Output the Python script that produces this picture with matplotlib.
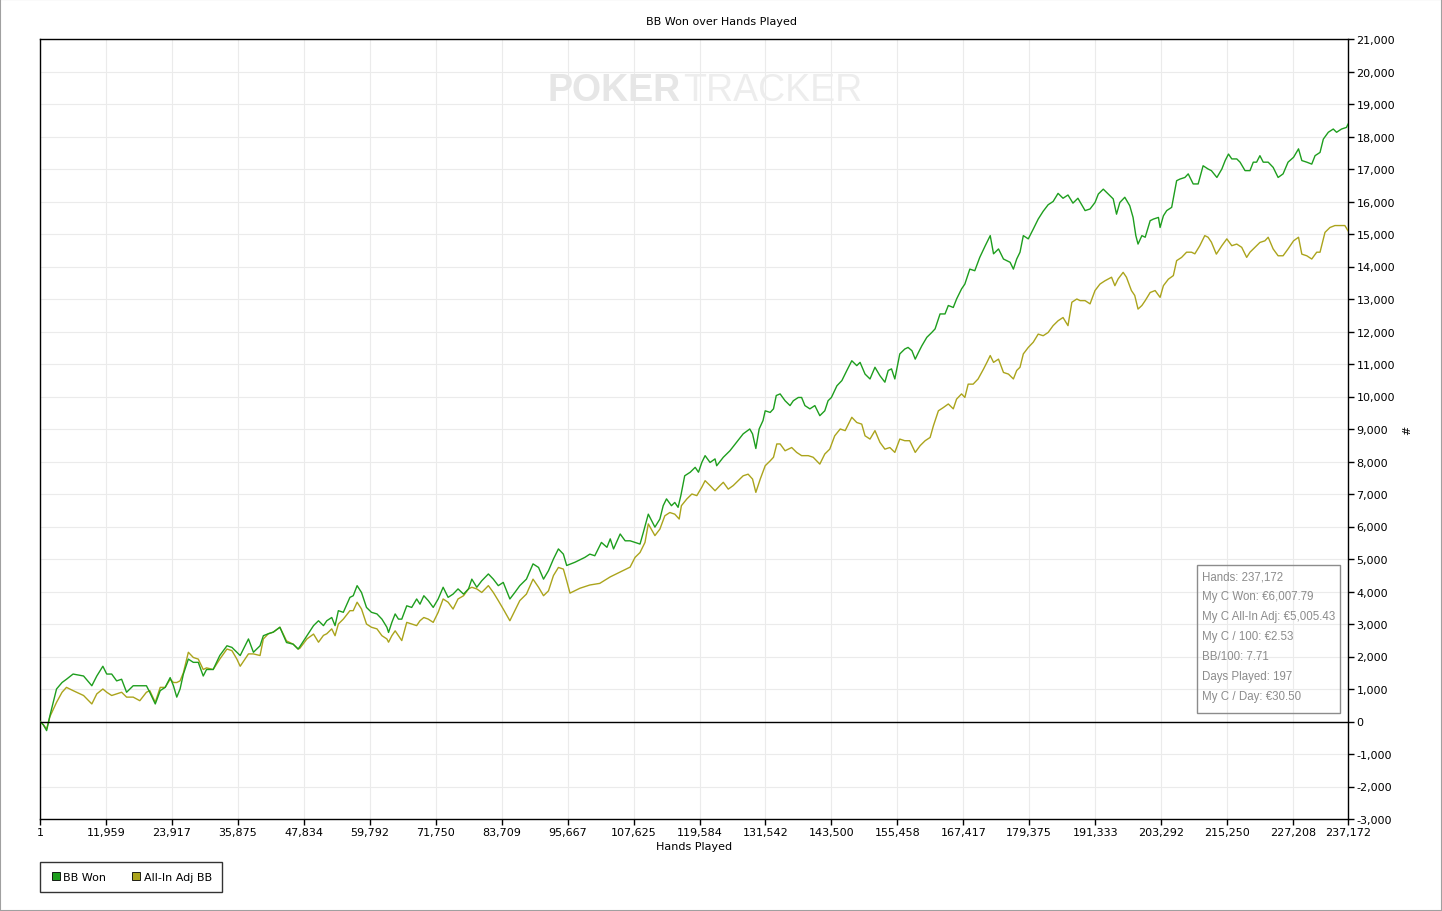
import numpy as np
import matplotlib
matplotlib.use("Agg")
import matplotlib.pyplot as plt
from matplotlib.lines import Line2D
from matplotlib.patches import Rectangle
from matplotlib.ticker import FuncFormatter

plt.rcParams["font.family"] = ["DejaVu Sans"]

# hands played (thousands) and cumulative BB won
bb_hands = [0.0, 0.6, 1.2, 1.8, 3.0, 4.0, 4.8, 6.0, 7.9, 9.4, 10.3, 11.4, 12.1, 13.0, 13.9, 14.8,
            15.7, 16.9, 18.1, 19.3, 19.9, 20.9, 21.8, 22.7, 23.6, 24.2, 24.8, 25.4, 26.0, 26.9,
            27.8, 28.7, 29.6, 30.2, 31.4, 32.6, 33.9, 34.8, 35.7, 36.3, 37.8, 38.7, 39.9, 40.5,
            41.4, 42.3, 43.5, 44.7, 45.9, 46.8, 47.1, 48.4, 49.6, 50.5, 51.4, 52.0, 52.9, 53.5,
            54.1, 55.0, 56.2, 56.8, 57.5, 58.3, 59.2, 60.1, 61.1, 62.0, 62.9, 63.2, 63.8, 64.4,
            65.0, 65.6, 66.5, 67.4, 68.3, 68.9, 69.6, 70.4, 71.3, 72.2, 73.1, 74.0, 74.9, 75.8,
            76.8, 77.7, 78.3, 79.2, 80.1, 81.3, 82.2, 83.1, 84.0, 85.2, 86.1, 87.0, 88.2, 89.4,
            90.4, 91.3, 92.2, 93.1, 94.0, 94.9, 95.5, 97.0, 98.8, 99.7, 100.6, 101.8, 102.8,
            103.4, 104.0, 105.2, 106.1, 107.0, 107.9, 108.8, 109.4, 110.3, 111.5, 112.4, 113.0,
            113.6, 114.5, 115.1, 115.7, 116.2, 116.9, 117.9, 118.8, 119.4, 120.0, 120.6, 121.5,
            122.4, 122.7, 123.9, 125.1, 126.3, 127.5, 128.7, 129.2, 129.8, 130.4, 131.1, 131.5,
            132.4, 133.0, 133.5, 134.2, 135.1, 136.0, 136.6, 137.5, 138.1, 138.7, 139.6, 140.5,
            141.4, 142.3, 142.9, 143.5, 144.5, 145.4, 146.3, 147.2, 148.1, 148.7, 149.6, 150.5,
            151.4, 152.3, 153.2, 153.8, 154.4, 155.0, 155.9, 156.8, 157.4, 158.1, 158.7, 159.3,
            159.9, 160.8, 161.7, 162.3, 163.2, 164.1, 164.7, 165.6, 166.2, 167.1, 167.7, 168.6,
            169.5, 170.4, 171.4, 172.3, 172.9, 173.8, 174.7, 175.3, 175.9, 176.5, 177.1, 177.7,
            178.3, 179.2, 180.1, 181.0, 181.9, 182.8, 183.7, 184.6, 185.5, 186.4, 187.3, 188.2,
            189.5, 190.4, 191.3, 191.9, 192.8, 193.7, 194.6, 195.2, 195.8, 196.7, 197.6, 198.2,
            198.7, 199.1, 199.8, 200.4, 201.3, 201.9, 202.8, 203.1, 203.7, 204.3, 205.2, 206.1,
            206.7, 207.6, 208.2, 209.1, 210.0, 210.9, 211.8, 212.4, 213.4, 214.3, 214.9, 215.5,
            216.1, 217.0, 217.6, 218.5, 219.4, 220.0, 220.6, 221.2, 221.8, 222.7, 223.6, 224.5,
            225.4, 226.3, 227.3, 228.2, 228.8, 229.7, 230.6, 231.2, 232.1, 232.7, 233.6, 234.5,
            235.1, 236.0, 236.9, 237.172]
bb_won = [0, -100, -280, 180, 1000, 1200, 1300, 1460, 1400, 1100, 1400, 1700, 1460, 1460, 1250, 1300,
          900, 1100, 1100, 1100, 900, 540, 950, 1050, 1350, 1100, 750, 1000, 1460, 1920,
          1820, 1820, 1400, 1600, 1600, 2030, 2330, 2280, 2130, 2030, 2540, 2130, 2330, 2640,
          2700, 2750, 2900, 2430, 2380, 2230, 2300, 2640, 2950, 3100, 2950, 3100, 3200, 2950,
          3410, 3360, 3820, 3870, 4180, 3970, 3510, 3360, 3310, 3150, 2900, 2740, 3050, 3310,
          3150, 3150, 3560, 3510, 3770, 3610, 3870, 3720, 3510, 3770, 4130, 3820, 3920, 4080,
          3920, 4080, 4380, 4130, 4330, 4540, 4380, 4180, 4280, 3770, 3970, 4180, 4380, 4850,
          4740, 4380, 4640, 5000, 5310, 5150, 4800, 4900, 5050, 5150, 5100, 5510, 5360,
          5620, 5310, 5770, 5560, 5560, 5510, 5460, 5820, 6380, 5980, 6230, 6640,
          6850, 6640, 6740, 6590, 6950, 7560, 7670, 7820, 7670, 7970, 8180, 7970,
          8080, 7870, 8130, 8330, 8590, 8850, 9000, 8850, 8400, 9000, 9260, 9560,
          9510, 9620, 10030, 10080, 9870, 9720, 9870, 9970, 9970, 9720, 9620, 9720,
          9410, 9560, 9870, 9970, 10330, 10490, 10800, 11100, 10950, 11050, 10690, 10540,
          10900, 10640, 10440, 10800, 10850, 10540, 11310, 11460, 11510, 11410, 11150, 11360,
          11560, 11820, 11970, 12080, 12540, 12540, 12800, 12740, 13000, 13310, 13460, 13920,
          13870, 14280, 14640, 14950, 14390, 14540, 14230, 14180, 14130, 13920, 14230, 14440,
          14950, 14850, 15150, 15460, 15700, 15900, 16000, 16250, 16100, 16200, 15950, 16100,
          15720, 15770, 15970, 16230, 16380, 16230, 16080, 15610, 15970, 16130, 15870, 15510,
          14950, 14690, 14950, 14900, 15410, 15460, 15510, 15200, 15560, 15720, 15820, 16640,
          16690, 16740, 16850, 16540, 16540, 17100, 17000, 16950, 16740, 17000, 17260, 17460,
          17310, 17310, 17210, 16950, 16950, 17210, 17210, 17410, 17210, 17210, 17050, 16740,
          16850, 17210, 17360, 17620, 17260, 17210, 17150, 17410, 17510, 17920, 18130, 18230,
          18130, 18230, 18280, 18380]

adj_hands = [0.0, 0.6, 1.2, 1.8, 3.0, 4.0, 4.8, 6.0, 7.9, 9.4, 10.3, 11.4, 12.1, 13.0, 13.9, 14.8,
             15.7, 16.9, 18.1, 19.3, 19.9, 20.9, 21.8, 22.7, 23.6, 24.2, 24.8, 25.4, 26.0, 26.9,
             27.8, 28.7, 29.6, 30.2, 31.4, 32.6, 33.9, 34.8, 35.7, 36.3, 37.8, 38.7, 39.9, 40.5,
             41.4, 42.3, 43.5, 44.7, 45.9, 46.8, 47.1, 48.4, 49.6, 50.5, 51.4, 52.0, 52.9, 53.5,
             54.1, 55.0, 56.2, 56.8, 57.5, 58.3, 59.2, 60.1, 61.1, 62.0, 62.9, 63.2, 63.8, 64.4,
             65.0, 65.6, 66.5, 67.4, 68.3, 68.9, 69.6, 70.4, 71.3, 72.2, 73.1, 74.0, 74.9, 75.8,
             76.8, 77.7, 78.3, 79.2, 80.1, 81.3, 82.2, 83.1, 84.0, 85.2, 86.1, 87.0, 88.2, 89.4,
             90.4, 91.3, 92.2, 93.1, 94.0, 94.9, 95.5, 96.1, 97.9, 99.7, 101.5, 103.4, 105.2,
             107.0, 107.9, 108.8, 109.7, 110.3, 111.5, 112.4, 113.3, 114.2, 115.1, 115.9, 116.3,
             117.3, 118.2, 119.1, 120.0, 120.6, 121.5, 122.4, 123.3, 123.9, 124.8, 125.7, 126.6,
             127.5, 128.4, 129.2, 129.8, 130.6, 131.5, 132.4, 133.0, 133.6, 134.2, 135.1, 136.3,
             137.2, 138.1, 139.3, 140.2, 141.4, 142.3, 143.2, 144.1, 145.1, 146.0, 147.2, 148.1,
             149.0, 149.6, 150.5, 151.4, 152.3, 153.2, 154.1, 155.0, 155.9, 156.8, 157.7, 158.7,
             159.6, 160.5, 161.4, 162.0, 162.9, 163.8, 164.7, 165.6, 166.2, 167.1, 167.7, 168.3,
             169.2, 170.1, 171.1, 171.7, 172.3, 172.9, 173.8, 174.7, 175.6, 176.5, 177.1, 177.7,
             178.3, 179.2, 180.1, 181.0, 181.9, 182.8, 183.7, 184.6, 185.5, 186.4, 187.1, 188.0,
             188.6, 189.5, 190.4, 191.3, 192.2, 193.1, 194.3, 194.9, 195.5, 196.4, 197.0, 197.9,
             198.5, 199.1, 199.8, 200.4, 201.3, 202.2, 203.1, 203.7, 204.6, 205.5, 206.1, 207.0,
             207.9, 208.8, 209.4, 210.3, 211.2, 211.8, 212.4, 213.3, 214.3, 215.2, 216.1, 217.0,
             217.9, 218.8, 219.4, 220.3, 221.2, 222.1, 222.7, 223.6, 224.5, 225.4, 226.3, 227.3,
             228.2, 228.8, 229.7, 230.6, 231.5, 232.1, 233.0, 233.9, 234.8, 235.7, 236.6, 237.172]
adj_won = [0, -100, -230, 150, 590, 900, 1050, 950, 800, 540, 850, 1000, 900, 800, 850, 900,
           750, 750, 640, 900, 950, 590, 1050, 1050, 1300, 1200, 1200, 1250, 1500, 2130,
           1970, 1920, 1600, 1650, 1600, 1920, 2230, 2180, 1920, 1700, 2080, 2080, 2030, 2540,
           2700, 2750, 2900, 2480, 2380, 2230, 2250, 2540, 2690, 2440, 2650, 2700, 2850, 2640,
           3000, 3150, 3410, 3410, 3670, 3460, 3000, 2900, 2850, 2640, 2540, 2440, 2640, 2790,
           2640, 2490, 3050, 3000, 2950, 3100, 3200, 3150, 3050, 3360, 3770, 3670, 3460, 3770,
           3870, 4080, 4130, 4080, 3970, 4180, 3970, 3720, 3460, 3100, 3410, 3720, 3920, 4380,
           4130, 3870, 4020, 4490, 4740, 4690, 4330, 3950, 4100, 4200, 4250, 4450, 4600,
           4750, 5050, 5200, 5510, 6080, 5720, 5920, 6330, 6430, 6380, 6230, 6640,
           6850, 7000, 6950, 7210, 7410, 7260, 7100, 7260, 7360, 7150, 7260, 7410,
           7560, 7610, 7460, 7050, 7460, 7870, 8020, 8130, 8540, 8540, 8330, 8430,
           8280, 8180, 8180, 8130, 7920, 8230, 8380, 8790, 9000, 8950, 9360, 9200,
           9150, 8790, 8690, 8950, 8590, 8380, 8430, 8280, 8690, 8640, 8640, 8280,
           8490, 8640, 8740, 9100, 9560, 9660, 9770, 9620, 9920, 10080, 9970, 10380,
           10380, 10540, 10850, 11050, 11260, 11050, 11150, 10740, 10690, 10540, 10800, 10900,
           11310, 11510, 11670, 11920, 11870, 11970, 12180, 12330, 12430, 12180, 12900, 13000,
           12950, 12950, 12850, 13260, 13460, 13560, 13670, 13410, 13620, 13820, 13670, 13260,
           13110, 12690, 12800, 12950, 13200, 13260, 13050, 13410, 13610, 13720, 14180, 14280,
           14440, 14440, 14390, 14640, 14950, 14900, 14750, 14380, 14640, 14850, 14640, 14690,
           14590, 14280, 14440, 14590, 14740, 14790, 14900, 14540, 14330, 14330, 14540, 14790,
           14900, 14380, 14330, 14230, 14440, 14440, 15050, 15200, 15260, 15260, 15260, 15100]

x_ticks = [1, 11959, 23917, 35875, 47834, 59792, 71750, 83709, 95667, 107625, 119584,
           131542, 143500, 155458, 167417, 179375, 191333, 203292, 215250, 227208, 237172]

stats = ["Hands: 237,172", "My C Won: €6,007.79", "My C All-In Adj: €5,005.43",
         "My C / 100: €2.53", "BB/100: 7.71", "Days Played: 197", "My C / Day: €30.50"]

green = "#1e9e1e"
olive = "#aba41c"

fig = plt.figure(figsize=(14.42, 9.12), dpi=100)
W, H = 1442, 912
ax = fig.add_axes([40 / W, 1 - 820 / H, 1308 / W, 780 / H])

# watermark
fig.text(681 / W, 1 - 91 / H, "POKER", fontsize=27, fontweight="bold", color="#e6e6e6",
         family="Liberation Sans", va="center", ha="right", zorder=0)
fig.text(683 / W, 1 - 91 / H, "TRACKER", fontsize=27, color="#ededed",
         family="Liberation Sans", va="center", ha="left", zorder=0)
ax.patch.set_alpha(0)

ax.plot(np.array(adj_hands) * 1000, adj_won, color=olive, lw=1.0, zorder=3)
ax.plot(np.array(bb_hands) * 1000, bb_won, color=green, lw=1.0, zorder=4)
ax.axhline(0, color="black", lw=1.0, zorder=5)

ax.set_xlim(1, 237172)
ax.set_ylim(-3000, 21000)
ax.set_xticks(x_ticks)
ax.set_yticks(np.arange(-3000, 21001, 1000))
fmt = FuncFormatter(lambda v, p: f"{int(v):,}")
ax.xaxis.set_major_formatter(fmt)
ax.yaxis.set_major_formatter(fmt)
ax.yaxis.tick_right()
ax.yaxis.set_label_position("right")
ax.tick_params(axis="both", labelsize=8, length=4, width=1, colors="black", pad=2)
ax.grid(True, color="#ebebeb", lw=0.8)
ax.set_axisbelow(True)
for s in ax.spines.values():
    s.set_color("black")
    s.set_linewidth(1)

ax.set_xlabel("Hands Played", fontsize=8, labelpad=3)
ax.set_ylabel("#", fontsize=8, labelpad=5)
fig.text(0.5, 1 - 22 / H, "BB Won over Hands Played", fontsize=8, ha="center", va="center")

# stats box
ax.add_patch(Rectangle((1197 / W, 1 - 714 / H), 143 / W, 148 / H, transform=fig.transFigure,
                       fill=False, edgecolor="#8c8c8c", lw=1, zorder=6, clip_on=False))
for i, s in enumerate(stats):
    fig.text(1202 / W, 1 - (577 + 20 * i) / H, s, fontsize=8.3, color="#8c8c8c", va="center",
             ha="left", family="Liberation Sans", zorder=7)

handles = [Line2D([], [], ls="none", marker="s", ms=6, mfc=green, mec="black", mew=0.6),
           Line2D([], [], ls="none", marker="s", ms=6, mfc=olive, mec="black", mew=0.6)]
leg = fig.legend(handles, ["BB Won", "All-In Adj BB"], loc="upper left",
                 bbox_to_anchor=(40 / W, 1 - 863 / H), ncol=2, fontsize=8, frameon=True,
                 fancybox=False, edgecolor="black", borderaxespad=0, handletextpad=0.2,
                 columnspacing=2.2, handlelength=1.0, borderpad=0.9)
leg.get_frame().set_linewidth(1)

fig.patches.append(Rectangle((0, 0), 1, 1, transform=fig.transFigure, fill=False,
                             edgecolor="#a0a0a0", lw=1.5))

fig.savefig("out.png", dpi=100)
